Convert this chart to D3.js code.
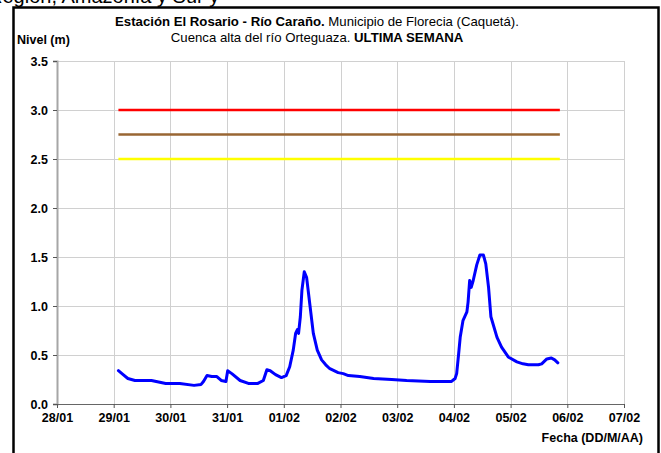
<!DOCTYPE html>
<html>
<head>
<meta charset="utf-8">
<script src="https://cdn.jsdelivr.net/npm/d3@7"></script>
<style>
  html, body { margin: 0; padding: 0; background: #fff; }
  svg { display: block; }
  text { font-family: "Liberation Sans", Arial, sans-serif; }
</style>
</head>
<body>
<svg id="chart" width="661" height="453"></svg>
<script>
// Water level readings, Estación El Rosario (Río Caraño), last week
const times = [
  "29/01 02:00","29/01 04:00","29/01 06:00","29/01 09:00","29/01 16:00","29/01 20:00","29/01 22:00",
  "30/01 04:00","30/01 10:00","30/01 13:00","30/01 14:00","30/01 15:30","30/01 17:30","30/01 19:40",
  "30/01 21:30","30/01 23:30","31/01 00:15","31/01 02:00","31/01 05:30","31/01 09:00","31/01 13:00",
  "31/01 15:20","31/01 16:50","31/01 18:15","31/01 20:30","31/01 23:00","01/02 01:00","01/02 02:30",
  "01/02 04:00","01/02 05:00","01/02 05:45","01/02 06:15","01/02 07:00","01/02 07:40","01/02 08:40",
  "01/02 09:40","01/02 11:00","01/02 12:30","01/02 14:10","01/02 16:00","01/02 17:45","01/02 19:30",
  "01/02 23:00","02/02 01:10","02/02 03:20","02/02 08:10","02/02 14:00","02/02 21:40","03/02 04:00",
  "03/02 14:00","03/02 23:00","04/02 00:30","04/02 01:10","04/02 02:00","04/02 02:40","04/02 03:50",
  "04/02 05:30","04/02 06:00","04/02 06:40","04/02 07:20","04/02 08:10","04/02 09:40","04/02 11:00",
  "04/02 12:30","04/02 13:30","04/02 14:40","04/02 15:40","04/02 18:15","04/02 20:10","04/02 23:00",
  "05/02 02:40","05/02 05:15","05/02 07:30","05/02 11:45","05/02 13:10","05/02 15:20","05/02 17:15",
  "05/02 18:40","05/02 20:00"
];
const levels = [
  0.34,0.30,0.26,0.24,0.24,0.22,0.21,
  0.21,0.19,0.20,0.23,0.29,0.28,0.28,
  0.24,0.23,0.34,0.31,0.24,0.21,0.21,
  0.24,0.35,0.34,0.30,0.27,0.29,0.38,
  0.55,0.72,0.76,0.72,0.89,1.16,1.35,
  1.29,1.02,0.72,0.55,0.45,0.40,0.36,
  0.32,0.31,0.29,0.28,0.26,0.25,0.24,
  0.23,0.23,0.26,0.31,0.51,0.68,0.85,
  0.94,1.04,1.26,1.19,1.26,1.42,1.52,
  1.52,1.43,1.19,0.89,0.68,0.58,0.48,
  0.43,0.41,0.40,0.40,0.41,0.46,0.47,
  0.45,0.42
];

// Alert thresholds (m)
const thresholdLevels = [3.0, 2.75, 2.5];
const thresholdColors = ["#ff0000", "#996633", "#ffff00"];

// Axis ticks
const xTickLabels = ["28/01","29/01","30/01","31/01","01/02","02/02","03/02","04/02","05/02","06/02","07/02"];
const yTicks = [0, 0.5, 1.0, 1.5, 2.0, 2.5, 3.0, 3.5];

const parse = d3.timeParse("%d/%m %H:%M");
const series = times.map((t, i) => ({ date: parse(t), level: levels[i] }));
const tickDates = xTickLabels.map(d => parse(d + " 00:00"));

const svg = d3.select("#chart");

// Page heading above the chart frame, running past the top edge
svg.append("text")
  .attr("x", -12).attr("y", 3)
  .attr("font-size", 20)
  .attr("fill", "#000")
  .text("Región, Amazonía y Sur y");

// Chart frame
svg.append("rect")
  .attr("x", 13.5).attr("y", 7.5)
  .attr("width", 645).attr("height", 460)
  .attr("fill", "none").attr("stroke", "#000").attr("stroke-width", 2.5);

const x = d3.scaleTime().domain([tickDates[0], tickDates[tickDates.length - 1]]).range([57, 624]);
const y = d3.scaleLinear().domain([0, 3.5]).range([404, 61]);

// Grid
const grid = svg.append("g").attr("stroke", "#d0d0d0").attr("stroke-width", 1);
grid.selectAll("line.h").data(yTicks.filter(v => v > 0)).join("line")
  .attr("x1", x.range()[0]).attr("x2", x.range()[1])
  .attr("y1", d => Math.round(y(d)) + 0.5).attr("y2", d => Math.round(y(d)) + 0.5);
grid.selectAll("line.v").data(tickDates.slice(1)).join("line")
  .attr("x1", d => Math.round(x(d)) + 0.5).attr("x2", d => Math.round(x(d)) + 0.5)
  .attr("y1", y.range()[1]).attr("y2", y.range()[0]);

// Y axis
const yAxis = svg.append("g")
  .attr("transform", `translate(${x.range()[0]},0)`)
  .call(d3.axisLeft(y).tickValues(yTicks).tickFormat(d3.format(".1f")).tickSize(4).tickPadding(5));
yAxis.select(".domain").attr("stroke", "#a6a6a6").attr("stroke-width", 2);
yAxis.selectAll(".tick line").attr("stroke", "#555");
yAxis.selectAll(".tick text")
  .attr("font-family", "Liberation Sans, Arial, sans-serif")
  .attr("font-size", 12.5).attr("font-weight", "bold").attr("fill", "#000");

// X axis
const xAxis = svg.append("g")
  .attr("transform", `translate(0,${y.range()[0]})`)
  .call(d3.axisBottom(x).tickValues(tickDates).tickFormat((d, i) => xTickLabels[i]).tickSize(4).tickPadding(5));
xAxis.select(".domain").attr("stroke", "#666").attr("stroke-width", 1);
xAxis.selectAll(".tick line").attr("stroke", "#555");
xAxis.selectAll(".tick text")
  .attr("font-family", "Liberation Sans, Arial, sans-serif")
  .attr("font-size", 12.5).attr("font-weight", "bold").attr("fill", "#000");

// Threshold lines
const tExtent = d3.extent(series, d => d.date);
svg.append("g").selectAll("line").data(thresholdLevels).join("line")
  .attr("x1", x(tExtent[0])).attr("x2", x(tExtent[1]) + 2)
  .attr("y1", d => y(d)).attr("y2", d => y(d))
  .attr("stroke", (d, i) => thresholdColors[i])
  .attr("stroke-width", 2.5);

// Level series
svg.append("path")
  .datum(series)
  .attr("fill", "none")
  .attr("stroke", "#0000ff")
  .attr("stroke-width", 3)
  .attr("stroke-linejoin", "round")
  .attr("stroke-linecap", "round")
  .attr("d", d3.line().x(d => x(d.date)).y(d => y(d.level)));

// Titles
const t1 = svg.append("text").attr("x", 317).attr("y", 26).attr("text-anchor", "middle").attr("font-size", 13.2);
t1.append("tspan").attr("font-weight", "bold").text("Estación El Rosario - Río Caraño.");
t1.append("tspan").text(" Municipio de Florecia (Caquetá).");

const t2 = svg.append("text").attr("x", 317).attr("y", 42).attr("text-anchor", "middle").attr("font-size", 13.2);
t2.append("tspan").text("Cuenca alta del río Orteguaza. ");
t2.append("tspan").attr("font-weight", "bold").text("ULTIMA SEMANA");

svg.append("text").attr("x", 17).attr("y", 44)
  .attr("font-size", 12.5).attr("font-weight", "bold").text("Nivel (m)");

svg.append("text").attr("x", 643).attr("y", 442).attr("text-anchor", "end")
  .attr("font-size", 12.5).attr("font-weight", "bold").text("Fecha (DD/M/AA)");
</script>
</body>
</html>
